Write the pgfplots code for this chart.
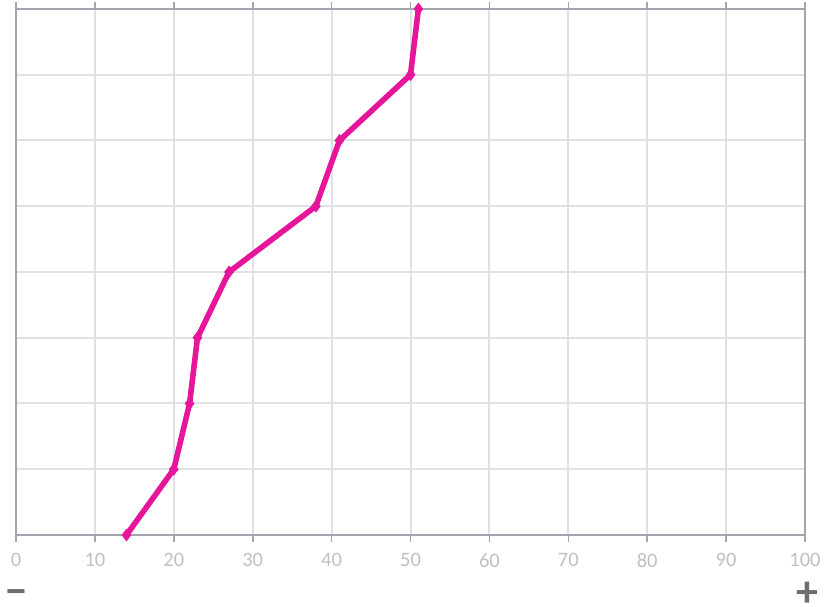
\documentclass[border=0pt]{standalone}
\usepackage{fontspec}
\setmainfont{Carlito}
\usepackage{pgfplots}
\pgfplotsset{compat=1.18}
\definecolor{magentaline}{HTML}{E6169B}
\definecolor{axisgray}{HTML}{A2A4AE}
\definecolor{gridgray}{HTML}{E0E0E6}
\definecolor{ticklab}{HTML}{C0C0C0}
\definecolor{signgray}{HTML}{6E6E6E}
\begin{document}
\begin{tikzpicture}
\begin{axis}[
  scale only axis,
  width=789pt, height=526pt,
  xmin=0, xmax=100, ymin=0, ymax=8,
  xtick={0,10,...,100},
  ytick={0,1,...,8},
  yticklabels={},
  grid=major,
  major grid style={draw=gridgray, line width=2pt},
  axis line style={draw=axisgray, line width=1.6pt},
  major tick length=7pt,
  x tick style={draw=axisgray, line width=1.6pt},
  y tick style={draw=none},
  xtick align=outside,
  tick label style={font=\fontsize{20.5}{24}\selectfont, text=ticklab},
  /pgf/number format/assume math mode=true,
  xticklabel style={yshift=-8pt},
  clip=false,
]
\addplot[color=magentaline, line width=5.6pt, mark=diamond*, mark size=6pt,
  mark options={solid, fill=magentaline, draw=magentaline, line width=0.5pt}]
  coordinates {(14,0) (20,1) (22,2) (23,3) (27,4) (38,5) (41,6) (50,7) (51,8)};
\node[font=\fontsize{44}{44}\selectfont\bfseries, text=signgray, inner sep=0pt, text height=6pt, text depth=0pt] at ([yshift=-68pt,xshift=0.5pt]axis cs:0,0) {−};
\node[font=\fontsize{44}{44}\selectfont\bfseries, text=signgray, inner sep=0pt, text height=20pt, text depth=0pt] at ([yshift=-62pt,xshift=2pt]axis cs:100,0) {+};
\end{axis}
\path[use as bounding box] ([shift={(-16pt,-70pt)}]current axis.south west) rectangle ([shift={(21pt,9pt)}]current axis.north east);
\end{tikzpicture}
\end{document}
